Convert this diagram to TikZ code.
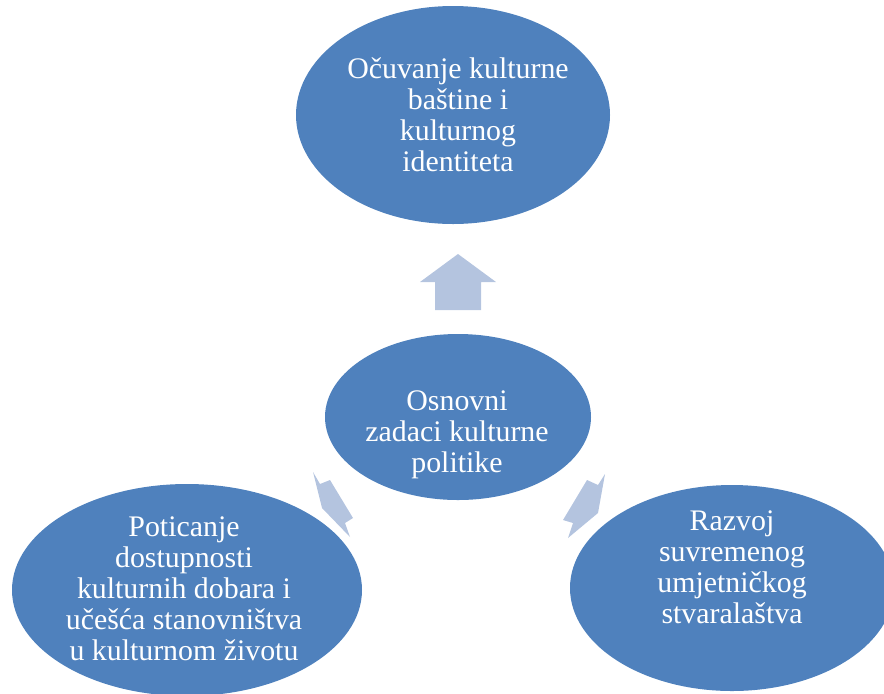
\documentclass[tikz,border=0pt]{standalone}
\usepackage{fontspec}
\setmainfont{Liberation Serif}
\usetikzlibrary{shapes.geometric}

\definecolor{blobblue}{RGB}{79,129,189}
\definecolor{pointerblue}{RGB}{180,196,223}

\tikzset{every picture/.style={line width=0.75pt},
	blob/.style={ellipse, fill=blobblue, draw=none, inner sep=0pt},
	pointer/.style={fill=pointerblue, draw=none},
	lbl/.style={text=white, align=center, inner sep=0.75pt, font=\fontsize{22.4}{23.3}\selectfont}}

\begin{document}
\begin{tikzpicture}[x=0.75pt,y=0.75pt,yscale=-1,xscale=1]
		\useasboundingbox (0,0) rectangle (884,693);
		
		%Shape: Up Arrow
		\draw [pointer] (458,254) -- (496,282) -- (481,282) -- (481,310) -- (435,310) -- (435,282) -- (420,282) -- cycle ;
		%Shape: Arrow, lower left
		\draw [pointer] (313,472) -- (320,484) -- (330,480) -- (353,518) -- (345,523) -- (350,537) -- (322,508) -- cycle ;
		%Shape: Arrow, lower right
		\draw [pointer] (605,474) -- (598,485) -- (587,480) -- (563,520) -- (573,523) -- (568,538) -- (598,513) -- cycle ;
		
		%Shape: Ellipse
		\node [blob, minimum width=235.5pt, minimum height=163.5pt] (heritage) at (453,115) {};
		\node [blob, minimum width=199.5pt, minimum height=124.5pt] (tasks) at (458,417) {};
		\node [blob, minimum width=262.5pt, minimum height=159pt] (access) at (187,590) {};
		\node [blob, minimum width=243pt, minimum height=154.5pt] (creation) at (732,588) {};
		
		\node [lbl] (heritagetxt) at (458,115) {Očuvanje kulturne\\baštine i\\kulturnog\\identiteta};
		\node [lbl] (taskstxt) at (457,435) {Osnovni\\zadaci kulturne\\politike};
		\node [lbl] (accesstxt) at (184,589) {Poticanje\\dostupnosti\\kulturnih dobara i\\učešća stanovništva\\u kulturnom životu};
		\node [lbl] (creationtxt) at (732,567) {Razvoj\\suvremenog\\umjetničkog\\stvaralaštva};
		
	\end{tikzpicture}
\end{document}
